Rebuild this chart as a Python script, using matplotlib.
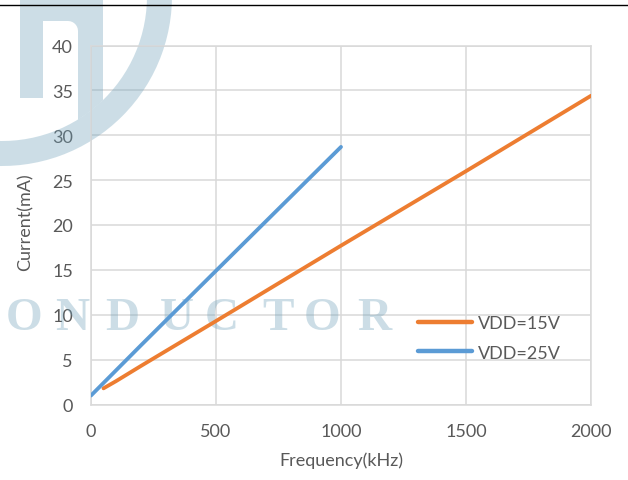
import numpy as np
import matplotlib
matplotlib.use('Agg')
import matplotlib.pyplot as plt
from matplotlib.path import Path
from matplotlib.patches import PathPatch, Wedge
from matplotlib.lines import Line2D
import matplotlib.transforms as mtransforms

# Datos
freq_15v = [50, 100, 200, 500, 1000, 1500, 2000]
curr_15v = [1.8, 2.6, 4.3, 9.3, 17.7, 26.0, 34.4]
freq_25v = [0, 100, 200, 500, 1000]
curr_25v = [1.0, 3.8, 6.6, 14.9, 28.7]
series_labels = ['VDD=15V', 'VDD=25V']
x_ticks = [0, 500, 1000, 1500, 2000]
y_ticks = [0, 5, 10, 15, 20, 25, 30, 35, 40]

W, H = 628, 481
plt.rcParams['font.family'] = ['Lato', 'DejaVu Sans']
gray_txt = '#595959'
grid_c = '#d9d9d9'

fig = plt.figure(figsize=(W / 100, H / 100), dpi=100)
ax = fig.add_axes([91 / W, 1 - 405.5 / H, 500 / W, 359 / H])

ax.plot(freq_15v, curr_15v, color='#ED7D31', lw=2.75, solid_capstyle='round',
        label=series_labels[0], zorder=3)
ax.plot(freq_25v, curr_25v, color='#5B9BD5', lw=2.75, solid_capstyle='round',
        label=series_labels[1], zorder=3)

ax.set_xlim(0, 2000)
ax.set_ylim(0, 40)
ax.set_xticks(x_ticks)
ax.set_yticks(y_ticks)
ax.grid(True, color=grid_c, lw=1.1)
ax.set_axisbelow(True)
for s in ax.spines.values():
    s.set_color(grid_c)
    s.set_linewidth(1.1)
ax.tick_params(length=0, labelsize=13, labelcolor=gray_txt, pad=13)

fig.text(341 / W, 1 - 461 / H, 'Frequency(kHz)', ha='center', va='center',
         fontsize=13, color=gray_txt)
fig.text(25 / W, 1 - 222 / H, 'Current(mA)', ha='center', va='center',
         rotation=90, fontsize=13, color=gray_txt)

leg = ax.legend(loc='center left', bbox_to_anchor=(418, H - 339),
                bbox_transform=mtransforms.IdentityTransform(),
                frameon=False, fontsize=13, handlelength=3.0,
                handletextpad=0.3, labelspacing=0.75, borderpad=0,
                borderaxespad=0)
for t in leg.get_texts():
    t.set_color(gray_txt)
for h in leg.legend_handles:
    h.set_linewidth(3.2)

# Marca de agua (coordenadas en pixeles, origen arriba a la izquierda)
px = mtransforms.Affine2D().scale(1, -1).translate(0, H)
wm_color = '#6ea0b9'
wm_alpha = 0.35
cx, cy, r_out, r_in = 2.0, -3.0, 170.0, 145.0

band = Wedge((cx, cy), r_out, -5, 95, width=r_out - r_in, transform=px,
             facecolor=wm_color, alpha=wm_alpha, edgecolor='none',
             clip_on=False, zorder=1.8)
ax.add_artist(band)

def y_inner(x):
    return cy + np.sqrt(r_in ** 2 - (x - cx) ** 2)

corner = [(68 + 10 * np.cos(a), 32 - 10 * np.sin(a)) for a in np.linspace(np.pi / 2, 0, 8)]
arc_x = np.linspace(78, 103, 12)
verts = [(20, -5), (20, 99), (43, 99), (43, 22)] + corner
verts += [(x, y_inner(x)) for x in arc_x]
verts += [(103, -5), (20, -5)]
codes = [Path.MOVETO] + [Path.LINETO] * (len(verts) - 2) + [Path.CLOSEPOLY]
dshape = PathPatch(Path(verts, codes), transform=px, facecolor=wm_color,
                   alpha=wm_alpha, edgecolor='none', clip_on=False, zorder=1.8)
ax.add_artist(dshape)

letters = ['O', 'N', 'D', 'U', 'C', 'T', 'O', 'R']
centers = [24, 72, 122, 177, 222, 278, 322, 374]
for ch, xc in zip(letters, centers):
    ax.text(xc, 330, ch, transform=px, ha='center', va='baseline',
            fontsize=34, family='Liberation Serif', fontweight='bold',
            color=wm_color, alpha=wm_alpha, clip_on=False, zorder=1.8)

# Linea superior
fig.add_artist(Line2D([0, W], [H - 6, H - 6], transform=mtransforms.IdentityTransform(),
                      color='black', lw=1.0))

fig.savefig('out.png', dpi=100)
